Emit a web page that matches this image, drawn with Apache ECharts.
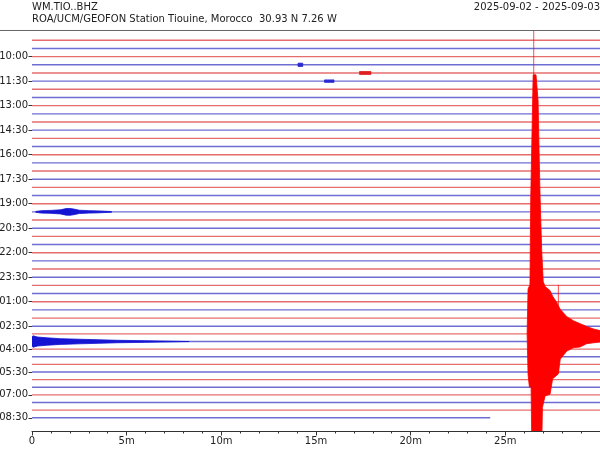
<!DOCTYPE html>
<html><head><meta charset="utf-8">
<script src="https://cdn.jsdelivr.net/npm/echarts@6/dist/echarts.min.js"></script>
<style>html,body{margin:0;padding:0;background:#fff}#c{width:600px;height:450px}</style>
</head><body><div id="c"></div>
<script>
// ---------- data ----------
const stationCode = 'WM.TIO..BHZ';
const stationDesc = 'ROA/UCM/GEOFON Station Tiouine, Morocco  30.93 N 7.26 W';
const dateRange = '2025-09-02 - 2025-09-03';
const traceMinutes = 30;
const lastTraceEnd = 24.2;          // last line stops early (minutes)
// vertical offset of each 30-minute line (09:00 .. 08:30), in line-spacing units
const traceOffset = [0,1,2,3,4,5,6,7,8,9,10,11,12,13,14,15,16,17,18,19,20,21,22,23,24,25,26,27,28,29,
                     30,31,32,33,34,35,35.93,36.87,37.8,38.73,39.67,40.6,41.53,42.47,43.4,44.33,45.27,46.2];
const tickTraceIdx = [2,5,8,11,14,17,20,23,26,29,32,35,38,41,44,47];
const tickLabels = ['10:00','11:30','13:00','14:30','16:00','17:30','19:00','20:30',
                    '22:00','23:30','01:00','02:30','04:00','05:30','07:00','08:30'];
const traceColors = ['rgba(215,20,20,0.62)','rgba(20,20,185,0.62)']; // alternating

// large earthquake on line 36 (03:00) – envelope in units of line spacing
const eqTrace = 36;
const eqUpT = [26.15,26.2,26.3,26.34,26.4,26.45,26.47,26.62,26.73,26.78,26.84,26.92,27.0,27.1,27.36,27.5,27.7,27.9,28.25,28.6,28.95,29.3,29.65,30];
const eqUpA = [0,5.5,6,16.5,23.5,29.5,31.7,31.7,28.5,22.6,16.4,10.3,6.4,5.8,5.3,4.6,3.9,3.0,2.1,1.6,1.25,0.9,0.6,0.4];
const eqLoT = [26.15,26.2,26.27,26.36,26.4,26.92,26.96,27.1,27.36,27.5,27.8,27.9,28.25,28.6,28.95,29.3,29.65,30];
const eqLoA = [0,-5,-6.5,-6.5,-14,-14,-9,-7.6,-7.4,-5.5,-4.9,-3.1,-2.1,-1.7,-1.6,-1.2,-1.1,-1.0];
const eqSpikeT = [26.5, 27.8, 27.8];
const eqSpikeA = [38, 6, -4.8];

// coda continuing on line 37
const codaTrace = 37;
const codaT = [0,0.05,0.3,0.8,1.5,2.5,3.5,4.5,6,8.3];
const codaA = [0.55,0.7,0.55,0.45,0.35,0.28,0.22,0.15,0.1,0];

// small event on line 21 (19:30)
const locTrace = 21;
const locT = [0.2,0.5,1.0,1.5,1.8,2.0,2.2,2.5,3.0,3.5,4.2];
const locA = [0.05,0.15,0.18,0.25,0.4,0.42,0.35,0.2,0.15,0.12,0.04];

// tiny blips
const blipTrace = [3,4,5];
const blipStart = [14.05,17.3,15.45];
const blipEnd = [14.3,17.9,15.95];
const blipAmp = [0.2,0.18,0.15];

// ---------- chart ----------
const FONT = 'DejaVu Sans';
const series = [];
const nTr = traceOffset.length;
for (let i = 0; i < nTr; i++) {
  const y = traceOffset[i];
  series.push({
    type: 'line', silent: true, symbol: 'none', animation: false,
    lineStyle: { color: traceColors[i % 2], width: 1.4 },
    data: [[0, y], [i === nTr - 1 ? lastTraceEnd : traceMinutes, y]],
    z: 2
  });
}
function band(trace, upT, upA, loT, loA, color, z) {
  const base = traceOffset[trace];
  series.push({
    type: 'custom', silent: true, animation: false, clip: true, z: z || 3,
    data: [[0, base]],
    renderItem: function (params, api) {
      const pts = [];
      for (let k = 0; k < upT.length; k++) pts.push(api.coord([upT[k], base - upA[k]]));
      for (let k = loT.length - 1; k >= 0; k--) pts.push(api.coord([loT[k], base - loA[k]]));
      return { type: 'polygon', shape: { points: pts }, style: { fill: color, stroke: color, lineWidth: 0.8 } };
    }
  });
}
band(eqTrace, eqUpT, eqUpA, eqLoT, eqLoA, '#ff0000', 5);
band(codaTrace, codaT, codaA, codaT, codaA.map(a => -a), '#1414d2', 4);
band(locTrace, locT, locA, locT, locA.map(a => -a), '#1414d2', 4);
for (let b = 0; b < blipTrace.length; b++) {
  const c = blipTrace[b] % 2 ? '#2a2ad0' : '#e02020';
  band(blipTrace[b], [blipStart[b], blipEnd[b]], [blipAmp[b], blipAmp[b]],
       [blipStart[b], blipEnd[b]], [-blipAmp[b], -blipAmp[b]], c, 4);
}
const eqBase = traceOffset[eqTrace];
series.push({
  type: 'custom', silent: true, animation: false, clip: true, z: 5,
  data: eqSpikeT.map((t, k) => [t, eqSpikeA[k]]),
  renderItem: function (params, api) {
    const t = api.value(0), a = api.value(1);
    const p0 = api.coord([t, eqBase]), p1 = api.coord([t, eqBase - a]);
    return { type: 'line', shape: { x1: p0[0], y1: p0[1], x2: p1[0], y2: p1[1] },
             style: { stroke: 'rgba(255,0,0,0.7)', lineWidth: 1 } };
  }
});

const tickValues = tickTraceIdx.map(i => traceOffset[i]);
const chart = echarts.init(document.getElementById('c'), null, { renderer: 'canvas' });
chart.setOption({
  animation: false,
  backgroundColor: '#fff',
  textStyle: { fontFamily: FONT },
  title: [
    { text: stationCode, left: 32, top: 2, padding: 0, textStyle: { fontFamily: FONT, fontSize: 10, fontWeight: 'normal', color: '#222' } },
    { text: stationDesc, left: 32, top: 14, padding: 0, textStyle: { fontFamily: FONT, fontSize: 10, fontWeight: 'normal', color: '#222' } },
    { text: dateRange, right: 0, top: 2, padding: 0, textStyle: { fontFamily: FONT, fontSize: 10, fontWeight: 'normal', color: '#222' } }
  ],
  graphic: [{ type: 'line', shape: { x1: 0, y1: 30.5, x2: 600, y2: 30.5 }, style: { stroke: '#666', lineWidth: 1 }, z: 10 }],
  grid: { left: 32, right: 0, top: 30, bottom: 19, containLabel: false, outerBoundsMode: 'none' },
  xAxis: {
    type: 'value', min: 0, max: traceMinutes, interval: 5, position: 'bottom',
    axisLine: { show: true, onZero: false, lineStyle: { color: '#333', width: 1 } },
    axisTick: { show: true, length: 4.5, lineStyle: { color: '#333' } },
    minorTick: { show: true, splitNumber: 5, length: 2.5, lineStyle: { color: '#333' } },
    splitLine: { show: false },
    axisLabel: { fontFamily: FONT, fontSize: 10, color: '#222', margin: 5,
      formatter: v => v === 0 ? '0' : (v === traceMinutes ? '' : v + 'm') }
  },
  yAxis: {
    type: 'value', inverse: true, min: -1.26, max: 47.82,
    axisLine: { show: false, onZero: false },
    axisTick: { show: true, length: 3.5, customValues: tickValues, lineStyle: { color: '#333' } },
    splitLine: { show: false },
    axisLabel: { fontFamily: FONT, fontSize: 10, color: '#222', margin: 4, customValues: tickValues,
      formatter: v => { let best = 0; for (let k = 1; k < tickValues.length; k++) if (Math.abs(tickValues[k] - v) < Math.abs(tickValues[best] - v)) best = k; return tickLabels[best]; } }
  },
  series: series
});
</script></body></html>
